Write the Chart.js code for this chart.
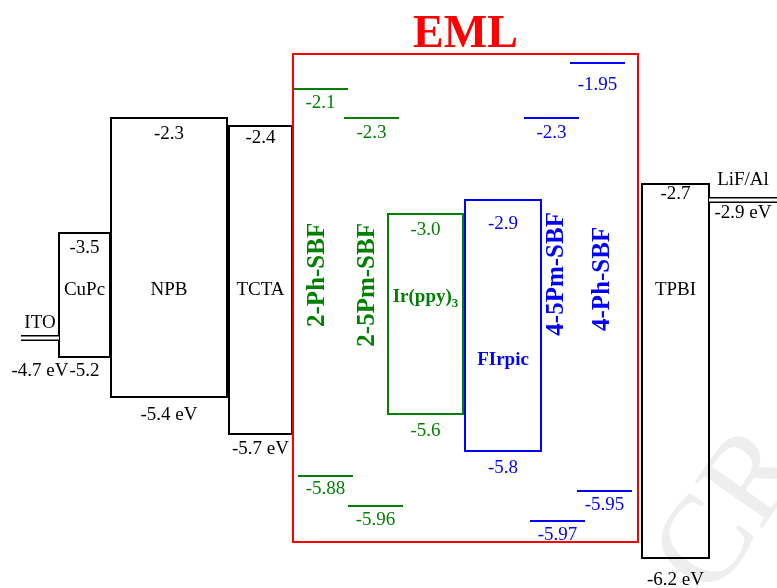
<!DOCTYPE html>
<html>
<head>
<meta charset="utf-8">
<title>Energy level diagram</title>
<style>
  html, body { margin: 0; padding: 0; background: #fff; }
</style>
<script src="https://cdn.jsdelivr.net/npm/chart.js@4/dist/chart.umd.min.js"></script>
</head>
<body>
<canvas id="levels" width="777" height="588"></canvas>
<script>
// transport layers (black boxes)
const layerNames = ['CuPc', 'NPB', 'TCTA', 'TPBI'];
const layerLumo = [-3.5, -2.3, -2.4, -2.7];
const layerHomo = [-5.2, -5.4, -5.7, -6.2];

// hosts in the EML
const hostNames = ['2-Ph-SBF', '2-5Pm-SBF', '4-5Pm-SBF', '4-Ph-SBF'];
const hostLumo = [-2.1, -2.3, -2.3, -1.95];
const hostHomo = [-5.88, -5.96, -5.97, -5.95];

// dopants in the EML
const dopantNames = ['Ir(ppy)', 'FIrpic'];
const dopantSub = ['3', ''];
const dopantLumo = [-3.0, -2.9];
const dopantHomo = [-5.6, -5.8];

// electrodes
const electrodeNames = ['ITO', 'LiF/Al'];
const electrodeLevels = [-4.7, -2.9];

// ---- layout (x in canvas units, label offsets in px) ----
const W = 777, H = 588;
const GREEN = '#008000', BLUE = '#0000ff', RED = '#ff0000';
const layerX = [[59, 110], [111, 227], [229, 292], [642, 709]];
const layerTopDy = [15, 16, 12, 10];
const layerBotDy = [14, 18, 15, 22];
const layerEv = [false, true, true, true];
const hostLumoX = [[294, 347], [345, 398], [525, 578], [571, 624]];
const hostHomoX = [[299, 352], [349, 402], [531, 584], [578, 631]];
const hostLumoDy = [14, 15, 15, 22];
const hostHomoDy = [13, 14, 14, 14];
const hostNameX = [318, 368, 557, 603];
const hostNameDy = [-15, -5, -16, -11];
const hostColors = [GREEN, GREEN, BLUE, BLUE];
const dopantX = [[388, 463], [465, 541]];
const dopantTopDy = [16, 24];
const dopantBotDy = [17, 17];
const dopantNameDy = [7, 70];
const dopantColors = [GREEN, BLUE];
const electrodeX = [[21, 59], [709, 777]];
const electrodeNameDy = [-15, -20];
const electrodeValDy = [33, 13];
const emlFrame = { x0: 293, x1: 638, top: -1.85, bottom: -6.1 };
const nameLevel = -4.15;

// the drawing is schematic, not to scale: energy -> vertical position stops
const energyStops = [
  [-1.5, 0], [-1.85, 54], [-1.95, 63], [-2.1, 89], [-2.3, 118], [-2.4, 126],
  [-2.7, 184], [-2.9, 200], [-3.0, 214], [-3.5, 233], [-4.7, 338], [-5.2, 357],
  [-5.4, 397], [-5.6, 414], [-5.7, 434], [-5.8, 451], [-5.88, 476], [-5.95, 491],
  [-5.96, 506], [-5.97, 521], [-6.2, 558], [-6.5, 588]
];

class EnergyScale extends Chart.LinearScale {
  getPixelForValue(v) {
    const s = energyStops;
    let pos = s[s.length - 1][1];
    if (v >= s[0][0]) pos = s[0][1];
    else {
      for (let i = 1; i < s.length; i++) {
        if (v >= s[i][0]) {
          const [e0, p0] = s[i - 1], [e1, p1] = s[i];
          pos = p0 + (v - e0) / (e1 - e0) * (p1 - p0);
          break;
        }
      }
    }
    return this.top + pos / H * (this.bottom - this.top);
  }
}
EnergyScale.id = 'energy';
EnergyScale.defaults = Chart.LinearScale.defaults;
Chart.register(EnergyScale);

function fmt(v) {
  const one = Math.round(v * 10) === Math.round(v * 100) / 10;
  return v.toFixed(one ? 1 : 2);
}
function rect(x0, x1, top, bottom) {
  return [{x: x0, y: top}, {x: x1, y: top}, {x: x1, y: bottom}, {x: x0, y: bottom}, {x: x0, y: top}];
}
function seg(x0, x1, y) {
  return [{x: x0, y: y}, {x: x1, y: y}];
}
function ds(data, color, width) {
  return {
    data: data, borderColor: color, borderWidth: width, showLine: true,
    pointRadius: 0, fill: false, tension: 0,
    borderCapStyle: 'square', borderJoinStyle: 'miter'
  };
}

// note: chart.js paints the first dataset last (on top)
const datasets = [];
// electrodes: thin outlined bars (white core over a black stroke)
for (let i = 0; i < electrodeNames.length; i++) {
  const d = seg(electrodeX[i][0], electrodeX[i][1], electrodeLevels[i]);
  datasets.push(Object.assign(ds(d, '#fff', 3), {borderCapStyle: 'butt'}));
  datasets.push(Object.assign(ds(d, '#000', 6), {borderCapStyle: 'butt'}));
}
datasets.push(ds(rect(emlFrame.x0, emlFrame.x1, emlFrame.top, emlFrame.bottom), RED, 2));
for (let i = 0; i < layerNames.length; i++) {
  datasets.push(ds(rect(layerX[i][0], layerX[i][1], layerLumo[i], layerHomo[i]), '#000', 2));
}
for (let i = 0; i < dopantNames.length; i++) {
  datasets.push(ds(rect(dopantX[i][0], dopantX[i][1], dopantLumo[i], dopantHomo[i]), dopantColors[i], 2));
}
for (let i = 0; i < hostNames.length; i++) {
  datasets.push(ds(seg(hostLumoX[i][0], hostLumoX[i][1], hostLumo[i]), hostColors[i], 2));
  datasets.push(ds(seg(hostHomoX[i][0], hostHomoX[i][1], hostHomo[i]), hostColors[i], 2));
}

const labelPlugin = {
  id: 'levelLabels',
  beforeDatasetsDraw(chart) {
    // faint watermark fragment in the corner
    const ctx = chart.ctx;
    ctx.save();
    ctx.translate(712, 600);
    ctx.rotate(-55 * Math.PI / 180);
    ctx.font = '125px "Liberation Serif"';
    ctx.fillStyle = '#eeeeee';
    ctx.textBaseline = 'alphabetic';
    ctx.fillText('CR', 0, 0);
    ctx.restore();
  },
  afterDatasetsDraw(chart) {
    const {ctx, scales: {x, y}} = chart;
    const normal = '19px "Liberation Serif"';
    const bold = 'bold 19px "Liberation Serif"';
    const text = (s, px, py, font, color) => {
      ctx.font = font;
      ctx.fillStyle = color;
      ctx.textAlign = 'center';
      ctx.textBaseline = 'middle';
      ctx.fillText(s, px, py);
    };
    ctx.save();

    // EML title
    ctx.font = 'bold 46px "Liberation Serif"';
    ctx.fillStyle = RED;
    ctx.textAlign = 'center';
    ctx.textBaseline = 'alphabetic';
    ctx.fillText('EML', x.getPixelForValue((emlFrame.x0 + emlFrame.x1) / 2), y.getPixelForValue(emlFrame.top) - 7);

    const nameY = y.getPixelForValue(nameLevel);

    layerNames.forEach((n, i) => {
      const cx = x.getPixelForValue((layerX[i][0] + layerX[i][1]) / 2);
      text(fmt(layerLumo[i]), cx, y.getPixelForValue(layerLumo[i]) + layerTopDy[i], normal, '#000');
      text(n, cx, nameY, normal, '#000');
      text(fmt(layerHomo[i]) + (layerEv[i] ? ' eV' : ''), cx, y.getPixelForValue(layerHomo[i]) + layerBotDy[i], normal, '#000');
    });

    electrodeNames.forEach((n, i) => {
      const cx = x.getPixelForValue((electrodeX[i][0] + electrodeX[i][1]) / 2);
      const ly = y.getPixelForValue(electrodeLevels[i]);
      text(n, cx, ly + electrodeNameDy[i], normal, '#000');
      text(fmt(electrodeLevels[i]) + ' eV', cx, ly + electrodeValDy[i], normal, '#000');
    });

    hostNames.forEach((n, i) => {
      const c = hostColors[i];
      const lx = x.getPixelForValue((hostLumoX[i][0] + hostLumoX[i][1]) / 2);
      const hx = x.getPixelForValue((hostHomoX[i][0] + hostHomoX[i][1]) / 2);
      text(fmt(hostLumo[i]), lx, y.getPixelForValue(hostLumo[i]) + hostLumoDy[i], normal, c);
      text(fmt(hostHomo[i]), hx, y.getPixelForValue(hostHomo[i]) + hostHomoDy[i], normal, c);
      ctx.save();
      ctx.translate(x.getPixelForValue(hostNameX[i]), nameY + hostNameDy[i]);
      ctx.rotate(-Math.PI / 2);
      text(n, 0, 0, 'bold 25px "Liberation Serif"', c);
      ctx.restore();
    });

    dopantNames.forEach((n, i) => {
      const c = dopantColors[i];
      const cx = x.getPixelForValue((dopantX[i][0] + dopantX[i][1]) / 2);
      text(fmt(dopantLumo[i]), cx, y.getPixelForValue(dopantLumo[i]) + dopantTopDy[i], normal, c);
      text(fmt(dopantHomo[i]), cx, y.getPixelForValue(dopantHomo[i]) + dopantBotDy[i], normal, c);
      const ny = nameY + dopantNameDy[i];
      if (dopantSub[i]) {
        ctx.font = bold;
        const w1 = ctx.measureText(n).width;
        ctx.font = 'bold 13px "Liberation Serif"';
        const w2 = ctx.measureText(dopantSub[i]).width;
        const left = cx - (w1 + w2) / 2;
        ctx.fillStyle = c;
        ctx.textAlign = 'left';
        ctx.textBaseline = 'middle';
        ctx.font = bold;
        ctx.fillText(n, left, ny);
        ctx.font = 'bold 13px "Liberation Serif"';
        ctx.fillText(dopantSub[i], left + w1, ny + 7);
      } else {
        text(n, cx, ny, bold, c);
      }
    });

    ctx.restore();
  }
};

new Chart(document.getElementById('levels'), {
  type: 'scatter',
  data: { datasets: datasets },
  options: {
    responsive: false,
    animation: false,
    events: [],
    layout: { padding: 0 },
    scales: {
      x: { type: 'linear', min: 0, max: W, display: false },
      y: { type: 'energy', min: -6.5, max: -1.5, display: false }
    },
    plugins: { legend: { display: false }, tooltip: { enabled: false } }
  },
  plugins: [labelPlugin]
});
</script>
</body>
</html>
